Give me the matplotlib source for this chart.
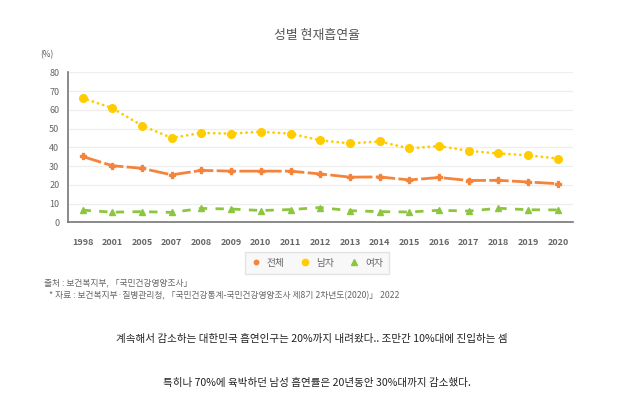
import numpy as np
import matplotlib
matplotlib.use('Agg')
import matplotlib.pyplot as plt
from matplotlib.lines import Line2D

plt.rcParams['font.family'] = ['Noto Sans CJK KR', 'DejaVu Sans']

years = ['1998', '2001', '2005', '2007', '2008', '2009', '2010', '2011', '2012',
         '2013', '2014', '2015', '2016', '2017', '2018', '2019', '2020']
total = [35.1, 30.2, 28.8, 25.3, 27.7, 27.3, 27.3, 27.3, 25.8,
         24.1, 24.2, 22.6, 23.9, 22.3, 22.4, 21.5, 20.6]
men = [66.3, 60.9, 51.6, 45.0, 47.7, 47.3, 48.3, 47.3, 43.7,
       42.1, 43.1, 39.4, 40.7, 38.1, 36.7, 35.7, 34.0]
women = [6.5, 5.4, 5.7, 5.3, 7.4, 7.1, 6.3, 6.8, 7.9,
         6.2, 5.7, 5.5, 6.4, 6.0, 7.5, 6.7, 6.6]
yticks = [0, 10, 20, 30, 40, 50, 60, 70, 80]

c_total = '#f4843c'
c_men = '#ffcc00'
c_women = '#8cc63f'

fig = plt.figure(figsize=(6.29, 4.12), dpi=100)
ax = fig.add_axes([0.1076, 0.4604, 0.803, 0.3641])

x = np.arange(len(years))
ax.plot(x, men, color=c_men, lw=2.0, ls=(0, (0.05, 1.9)), dash_capstyle='round',
        marker='o', ms=5.5, zorder=3)
ax.plot(x, total, color=c_total, lw=2.0, ls=(0, (7, 1.2)),
        marker='P', ms=4.2, zorder=3)
ax.plot(x, women, color=c_women, lw=2.0, ls=(0, (3, 3)),
        marker='^', ms=4.2, zorder=3)

ax.set_xlim(-0.5, len(years) - 0.5)
ax.set_ylim(0, 80)
ax.set_yticks(yticks)
ax.set_xticks(x)
ax.set_xticklabels(years)
ax.tick_params(length=0, labelsize=6.5, labelcolor='#666666', pad=6)
ax.tick_params(axis='x', pad=11)
for lab in ax.get_xticklabels():
    lab.set_fontweight('bold')
ax.grid(axis='y', color='#eeeeee', lw=0.9)
ax.set_axisbelow(True)
for s in ['top', 'right']:
    ax.spines[s].set_visible(False)
ax.spines['left'].set_color('#777777')
ax.spines['left'].set_linewidth(1.2)
ax.spines['bottom'].set_color('#777777')
ax.spines['bottom'].set_linewidth(1.2)

fig.text(0.504, 0.915, '성별 현재흡연율', ha='center', va='center', fontsize=9.3, color='#555555')
fig.text(0.075, 0.868, '(%)', ha='center', va='center', fontsize=6, color='#555555')

handles = [Line2D([], [], color=c_total, marker='o', ms=3.2, ls='none'),
           Line2D([], [], color=c_men, marker='o', ms=4.5, ls='none'),
           Line2D([], [], color=c_women, marker='^', ms=3.8, ls='none')]
leg = fig.legend(handles, ['전체', '남자', '여자'], loc='center', bbox_to_anchor=(0.504, 0.362),
                 ncol=3, fontsize=7, frameon=True, fancybox=False, handletextpad=0.6,
                 columnspacing=1.6, borderpad=0.6, handlelength=1.0)
leg.get_frame().set_facecolor('#f7f7f7')
leg.get_frame().set_edgecolor('#dddddd')
for t in leg.get_texts():
    t.set_color('#666666')

fig.text(0.070, 0.313, '출처 : 보건복지부, 「국민건강영양조사」', ha='left', va='center',
         fontsize=6.3, color='#666666')
fig.text(0.078, 0.282, '* 자료 : 보건복지부·질병관리청, 「국민건강통계-국민건강영양조사 제8기 2차년도(2020)」 2022',
         ha='left', va='center', fontsize=6.3, color='#666666')

fig.text(0.495, 0.178, '계속해서 감소하는 대한민국 흡연인구는 20%까지 내려왔다.. 조만간 10%대에 진입하는 셈',
         ha='center', va='center', fontsize=7.6, color='#222222')
fig.text(0.504, 0.070, '특히나 70%에 육박하던 남성 흡연률은 20년동안 30%대까지 감소했다.',
         ha='center', va='center', fontsize=7.6, color='#222222')

fig.savefig('out.png', dpi=100, facecolor='white')
